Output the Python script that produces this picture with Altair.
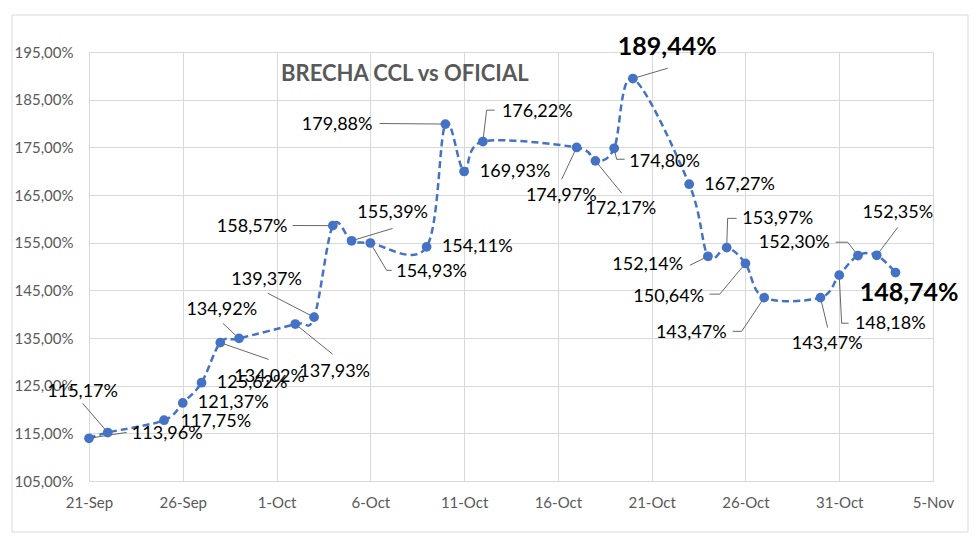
import altair as alt
import pandas as pd
from datetime import datetime, timezone

# ---------------- data ----------------
dates = ["2023-09-21", "2023-09-22", "2023-09-25", "2023-09-26", "2023-09-27", "2023-09-28",
         "2023-09-29", "2023-10-02", "2023-10-03", "2023-10-04", "2023-10-05", "2023-10-06",
         "2023-10-09", "2023-10-10", "2023-10-11", "2023-10-12", "2023-10-17", "2023-10-18",
         "2023-10-19", "2023-10-20", "2023-10-23", "2023-10-24", "2023-10-25", "2023-10-26",
         "2023-10-27", "2023-10-30", "2023-10-31", "2023-11-01", "2023-11-02", "2023-11-03"]
brecha = [113.96, 115.17, 117.75, 121.37, 125.62, 134.02, 134.92, 137.93, 139.37, 158.57,
          155.39, 154.93, 154.11, 179.88, 169.93, 176.22, 174.97, 172.17, 174.80, 189.44,
          167.27, 152.14, 153.97, 150.64, 143.47, 143.47, 148.18, 152.30, 152.35, 148.74]

# label placement (days after 21-Sep, value) as Excel placed them
lab_day = [4.17, -0.34, 6.76, 7.69, 8.70, 9.63, 7.08, 13.10, 9.47, 8.70,
           16.19, 18.27, 20.70, 13.23, 22.72, 23.90, 25.18, 28.35, 30.69, 30.83,
           34.69, 29.79, 36.72, 30.91, 32.11, 39.36, 42.72, 37.60, 43.12, 43.73]
lab_val = [114.8, 123.6, 117.3, 121.3, 125.5, 126.75, 140.8, 127.8, 147.1, 158.2,
           161.2, 148.8, 154.0, 179.6, 169.8, 182.35, 164.7, 162.0, 171.9, 196.0,
           167.2, 150.25, 159.9, 143.5, 136.0, 133.7, 137.9, 154.9, 161.2, 144.4]
# leader-line ends (None = no leader line)
lead_day = [2.01, -0.34, None, None, None, 9.58, 7.13, 12.99, 9.53, 10.86,
            16.19, 16.14, None, 15.50, None, 21.63, 25.20, 28.40, 28.56, 30.86,
            None, 32.03, 34.53, 33.09, 34.32, 39.38, 40.50, 39.81, 43.12, None]
lead_val = [115.2, 121.3, None, None, None, 130.5, 138.1, 131.6, 144.4, 158.6,
            158.0, 149.2, None, 180.0, None, 182.8, 168.3, 165.4, 172.5, 191.6,
            None, 150.25, 160.1, 144.2, 136.4, 137.2, 138.1, 155.1, 158.2, None]
# leader-line bends (None = straight leader)
knee_day = [None, None, None, None, None, None, None, None, None, None,
            None, 15.87, None, None, None, 21.20, None, None, 28.13, None,
            None, None, 34.05, 33.63, 34.80, None, 40.13, 40.45, None, None]
knee_val = [None, None, None, None, None, None, None, None, None, None,
            None, 149.2, None, None, None, 182.8, None, None, 172.5, None,
            None, None, 160.1, 144.2, 136.4, None, 138.1, 155.1, None, None]
highlight = ["2023-10-20", "2023-11-03"]

tick_dates = ["2023-09-21", "2023-09-26", "2023-10-01", "2023-10-06", "2023-10-11",
              "2023-10-16", "2023-10-21", "2023-10-26", "2023-10-31", "2023-11-05"]
y_ticks = [105, 115, 125, 135, 145, 155, 165, 175, 185, 195]
title_text = "BRECHA CCL vs OFICIAL"

# ---------------- helpers ----------------
DAY = 86400000


def ms(s):
    return int(datetime.fromisoformat(s).replace(tzinfo=timezone.utc).timestamp() * 1000)


base_ms = ms(dates[0])

df = pd.DataFrame({
    "t": [ms(d) for d in dates],
    "v": brecha,
    "lt": [base_ms + d * DAY for d in lab_day],
    "lv": lab_val,
    "hl": [d in highlight for d in dates],
})

seg_rows = []
for d, v, ed, ev, kd, kv in zip(dates, brecha, lead_day, lead_val, knee_day, knee_val):
    if ed is None:
        continue
    et, t = base_ms + ed * DAY, ms(d)
    if kd is None:
        seg_rows.append({"t": t, "v": v, "et": et, "ev": ev})
    else:
        kt = base_ms + kd * DAY
        seg_rows.append({"t": t, "v": v, "et": kt, "ev": kv})
        seg_rows.append({"t": kt, "v": kv, "et": et, "ev": ev})
df_lead = pd.DataFrame(seg_rows)

FONT = "Lato"
BLUE = "#4472C4"
GRID = "#d9d9d9"

xscale = alt.Scale(type="utc", domain=[ms(tick_dates[0]), ms(tick_dates[-1])])
yscale = alt.Scale(domain=[105, 195], nice=False, zero=False)
xaxis = alt.Axis(values=[ms(d) for d in tick_dates], title=None, grid=True, ticks=False,
                 labelPadding=14, labelFlush=False,
                 labelExpr="utcFormat(datum.value, '%-d-%b')")
yaxis = alt.Axis(values=y_ticks, title=None, grid=True, ticks=False, labelPadding=16,
                 labelExpr="replace(format(datum.value, '.2f'), '.', ',') + '%'")


def X(f):
    return alt.X(f, type="temporal", scale=xscale, axis=xaxis)


def Y(f):
    return alt.Y(f, type="quantitative", scale=yscale, axis=yaxis)


fmt = "replace(format(datum.v, '.2f'), '.', ',') + '%'"

one = pd.DataFrame({"a": [0]})
frame = alt.Chart(one).mark_rect(fillOpacity=0, stroke=GRID, strokeWidth=1).encode(
    x=alt.value(-77), x2=alt.value(879), y=alt.value(-37), y2=alt.value(480))

title = alt.Chart(one).mark_text(align="left", baseline="middle", font=FONT, fontSize=22,
                                 fontWeight="bold", color="#595959").encode(
    x=alt.value(192), y=alt.value(22), text=alt.value(title_text))

line = alt.Chart(df).mark_line(interpolate="cardinal", strokeDash=[7, 4], strokeWidth=2.5,
                               color=BLUE).encode(x=X("t"), y=Y("v"))

leaders = alt.Chart(df_lead).mark_rule(color="#404040", strokeWidth=0.8).encode(
    x=X("t"), y=Y("v"), x2="et", y2="ev")

points = alt.Chart(df).mark_circle(size=95, color=BLUE, opacity=1).encode(x=X("t"), y=Y("v"))

labels = alt.Chart(df).transform_filter("!datum.hl").transform_calculate(lab=fmt).mark_text(
    align="center", baseline="middle", font=FONT, fontSize=18, color="#000000").encode(
    x=X("lt"), y=Y("lv"), text="lab:N")

labels_hl = alt.Chart(df).transform_filter("datum.hl").transform_calculate(lab=fmt).mark_text(
    align="center", baseline="middle", font=FONT, fontSize=25, fontWeight="bold",
    color="#000000").encode(x=X("lt"), y=Y("lv"), text="lab:N")

chart = alt.layer(frame, line, leaders, points, labels, labels_hl, title).properties(
    width=844, height=429,
    autosize=alt.AutoSizeParams(type="none"),
    padding={"left": 89, "top": 52, "right": 47, "bottom": 65},
    background="white",
).configure_view(stroke=None).configure_axis(
    gridColor=GRID, domainColor=GRID, labelFont=FONT, labelFontSize=15, labelColor="#595959",
    gridWidth=1, domainWidth=1,
)

chart.save("out.html", embed_options={"renderer": "svg", "actions": False})
